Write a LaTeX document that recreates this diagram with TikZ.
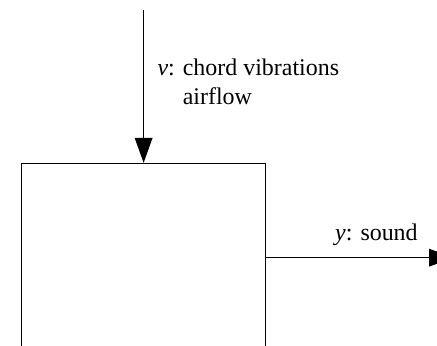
\documentclass[tikz,border=0pt]{standalone}
\usepackage{fontspec}
\setmainfont{Liberation Serif}
\usetikzlibrary{arrows.meta, positioning}

\tikzset{
    sysbox/.style={draw, line width=0.6pt, minimum width=4.3cm, minimum height=3.32cm, inner sep=0pt},
    sigarrow/.style={line width=0.6pt, -{Triangle[length=0.44cm, width=0.31cm]}},
    siglabel/.style={inner sep=0pt, font=\fontsize{12}{14.5}\selectfont, align=left}
}

\begin{document}
\begin{tikzpicture}
    \useasboundingbox (0,0) rectangle (7.7,6.08);
    \clip (0,0) rectangle (7.7,6.08);

    % the system, cut off at the bottom
    \node[sysbox, anchor=north west] (sys) at (0.37,3.21) {};

    % input
    \coordinate (vtop) at (sys.north |- 0,5.90);
    \draw[sigarrow] (vtop) -- (sys.north);
    \node[siglabel, anchor=west] (vlabel) at (2.77,4.63)
        {\textit{v}: chord vibrations\\\phantom{\textit{v}: }airflow};

    % output, its tip cut off by the edge
    \coordinate (yend) at (8.0,0 |- sys.east);
    \draw[sigarrow] (sys.east) -- (yend);
    \node[siglabel, anchor=west] (ylabel) at (5.90,1.94) {\textit{y}: sound};
\end{tikzpicture}
\end{document}
